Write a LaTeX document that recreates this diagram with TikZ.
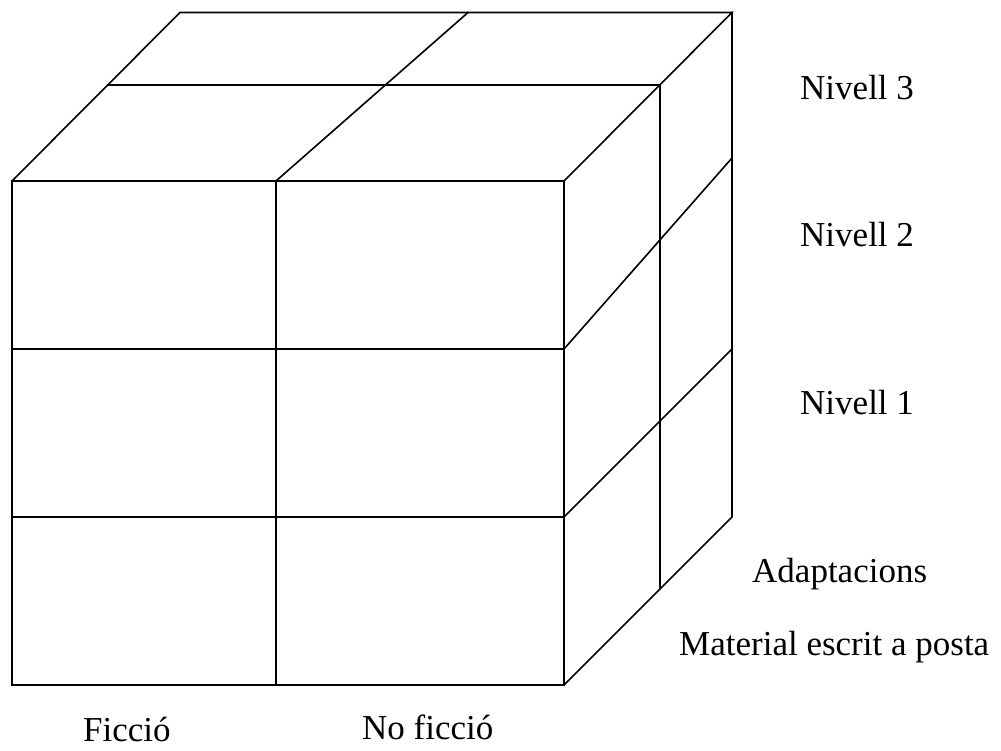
\documentclass[tikz,border=0pt]{standalone}
\usepackage{fontspec}
\setmainfont{Liberation Serif}
\begin{document}
\begin{tikzpicture}[x=1pt,y=-1pt,
  edge/.style={line width=1.6pt,line join=miter,line cap=rect},
  lbl/.style={anchor=base west,inner sep=0pt,font=\fontsize{35}{40}\selectfont}]
\useasboundingbox (0,0) rectangle (1001,751);
% front face corners
\coordinate (FTL) at (12,181);
\coordinate (FTR) at (564,181);
\coordinate (FBL) at (12,685);
\coordinate (FBR) at (564,685);
% back corners
\coordinate (BTL) at (180,12.5);
\coordinate (BTR) at (732,12.5);
\coordinate (BBR) at (732,517);
% front face
\draw[edge] (FTL) rectangle (FBR);
\draw[edge] (276,181) -- (276,685);
\draw[edge] (12,349) -- (564,349);
\draw[edge] (12,517) -- (564,517);
% top face
\draw[edge] (FTL) -- (BTL) -- (BTR) -- (FTR);
\draw[edge] (108,85) -- (660,85);
\draw[edge] (276,181) -- (468,12.5);
% right face
\draw[edge] (BTR) -- (BBR) -- (FBR);
\draw[edge] (660,85) -- (660,589);
\draw[edge] (564,349) -- (732,158);
\draw[edge] (564,517) -- (732,349);
% labels
\node[lbl] (n3) at (800,100) {Nivell 3};
\node[lbl] (n2) at (800,247) {Nivell 2};
\node[lbl] (n1) at (800,414) {Nivell 1};
\node[lbl] (ad) at (752,582) {Adaptacions};
\node[lbl] (me) at (679,655) {Material escrit a posta};
\node[lbl] (fi) at (83,741) {Ficció};
\node[lbl] (nf) at (362,739) {No ficció};
\end{tikzpicture}
\end{document}
